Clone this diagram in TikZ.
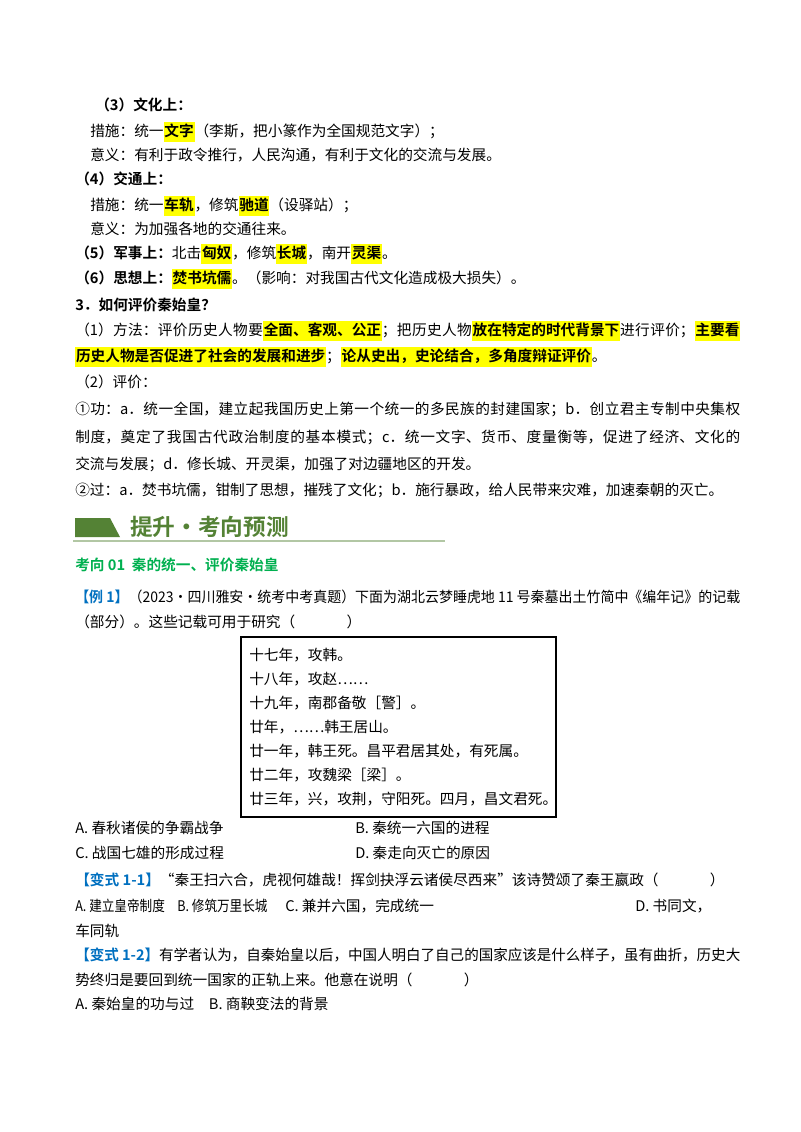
\documentclass[tikz,border=0pt]{standalone}
\usepackage{fontspec}
\usepackage{graphicx}
\setmainfont{Noto Sans CJK SC}[BoldFont={* Bold}]
\XeTeXlinebreaklocale "zh"
\XeTeXlinebreakskip=0pt plus 2pt
\definecolor{hly}{RGB}{255,255,0}
\definecolor{exblue}{RGB}{0,112,192}
\definecolor{kxgreen}{RGB}{0,176,80}
\definecolor{bngreen}{RGB}{84,130,53}
\newcommand\hlt[1]{{\setlength\fboxsep{0.6pt}\colorbox{hly}{\strut #1}}}
\newcommand\fitw[1]{\resizebox{498.75pt}{\height}{#1}}
\newcommand\narrow[1]{\scalebox{0.86}[1]{#1}}
\tikzset{
  ln/.style={anchor=base west,inner sep=0pt,font=\fontsize{11}{14}\selectfont},
  jl/.style={ln,text width=498.75pt,align=justify},
}
\begin{document}
\begin{tikzpicture}[x=0.75pt,y=-0.75pt]
\fill[white] (0,0) rectangle (800,1132);
\useasboundingbox (0,0) rectangle (800,1132);
\node[ln] (t1) at (95,110) {\textbf{（3）文化上：}};
\node[ln] (t2) at (90,136) {措施：统一\hlt{\textbf{文字}}（李斯，把小篆作为全国规范文字）；};
\node[ln] (t3) at (90,160) {意义：有利于政令推行，人民沟通，有利于文化的交流与发展。};
\node[ln] (t4) at (75,184) {\textbf{（4）交通上：}};
\node[ln] (t5) at (90,210) {措施：统一\hlt{\textbf{车轨}}，修筑\hlt{\textbf{驰道}}（设驿站）；};
\node[ln] (t6) at (90,234) {意义：为加强各地的交通往来。};
\node[ln] (t7) at (75,258) {\textbf{（5）军事上：}北击\hlt{\textbf{匈奴}}，修筑\hlt{\textbf{长城}}，南开\hlt{\textbf{灵渠}}。};
\node[ln] (t8) at (75,283) {\textbf{（6）思想上：}\hlt{\textbf{焚书坑儒}}。（影响：对我国古代文化造成极大损失）。};
\node[ln] (t9) at (75,310) {\textbf{3．如何评价秦始皇？}};
\node[jl] (t10) at (75,335) {{（1）方法：评价历史人物要\hlt{\textbf{全面、客观、公正}}；把历史人物\hlt{\textbf{放在特定的时代背景下}}进行评价；\hlt{\textbf{主要看}}\parfillskip=0pt\par}};
\node[ln] (t11) at (75,361) {\hlt{\textbf{历史人物是否促进了社会的发展和进步}}；\hlt{\textbf{论从史出，史论结合，多角度辩证评价}}。};
\node[ln] (t12) at (75,387) {（2）评价：};
\node[jl] (t13) at (75,414) {{①功：a．统一全国，建立起我国历史上第一个统一的多民族的封建国家；b．创立君主专制中央集权\parfillskip=0pt\par}};
\node[jl] (t14) at (75,442) {{制度，奠定了我国古代政治制度的基本模式；c．统一文字、货币、度量衡等，促进了经济、文化的\parfillskip=0pt\par}};
\node[ln] (t15) at (75,469) {交流与发展；d．修长城、开灵渠，加强了对边疆地区的开发。};
\node[ln] (t16) at (75,495) {②过：a．焚书坑儒，钳制了思想，摧残了文化；b．施行暴政，给人民带来灾难，加速秦朝的灭亡。};
% banner
\fill[bngreen] (75,518) -- (110,518) -- (120,537) -- (75,537) -- cycle;
\node[anchor=base west,inner sep=0pt,font=\fontsize{17}{20}\selectfont\bfseries,text=bngreen] (bn) at (130,535) {提升·考向预测};
\draw[bngreen!45,line width=0.8pt] (73,541) -- (445,541);
\node[ln,text=kxgreen] (kx) at (75,570) {\textbf{考向 01\ \ 秦的统一、评价秦始皇}};
\node[ln] (e1) at (75,602) {\fitw{\textcolor{exblue}{\textbf{【例 1】}}（2023·四川雅安·统考中考真题）下面为湖北云梦睡虎地 11 号秦墓出土竹简中《编年记》的记载}};
\node[ln] (e2) at (75,627) {（部分）。这些记载可用于研究（\hspace{3.5em}）};
\draw[line width=0.8pt] (241,637) rectangle (556,817);
\node[ln] (b1) at (249,660) {十七年，攻韩。};
\node[ln] (b2) at (249,684) {十八年，攻赵……};
\node[ln] (b3) at (249,708) {十九年，南郡备敬［警］。};
\node[ln] (b4) at (249,732) {廿年，……韩王居山。};
\node[ln] (b5) at (249,756) {廿一年，韩王死。昌平君居其处，有死属。};
\node[ln] (b6) at (249,780) {廿二年，攻魏梁［梁］。};
\node[ln] (b7) at (249,804) {廿三年，兴，攻荆，守阳死。四月，昌文君死。};
\node[ln] (oa) at (75,833) {A. 春秋诸侯的争霸战争};
\node[ln] (ob) at (355,833) {B. 秦统一六国的进程};
\node[ln] (oc) at (75,858) {C. 战国七雄的形成过程};
\node[ln] (od) at (355,858) {D. 秦走向灭亡的原因};
\node[ln] (v1) at (75,885) {\textcolor{exblue}{\textbf{【变式 1-1】}}“秦王扫六合，虎视何雄哉！挥剑抉浮云诸侯尽西来”该诗赞颂了秦王嬴政（\hspace{3.5em}）};
\node[ln] (pa) at (75,911) {\narrow{A. 建立皇帝制度}};
\node[ln] (pb) at (177,911) {\narrow{B. 修筑万里长城}};
\node[ln] (pc) at (285,911) {C. 兼并六国，完成统一};
\node[ln] (pd) at (635,911) {D. 书同文，};
\node[ln] (pe) at (75,936) {车同轨};
\node[ln] (v2) at (75,960) {\fitw{\textcolor{exblue}{\textbf{【变式 1-2】}}有学者认为，自秦始皇以后，中国人明白了自己的国家应该是什么样子，虽有曲折，历史大}};
\node[ln] (v3) at (75,985) {势终归是要回到统一国家的正轨上来。他意在说明（\hspace{3.5em}）};
\node[ln] (qa) at (75,1009) {A. 秦始皇的功与过\quad B. 商鞅变法的背景};
\end{tikzpicture}
\end{document}
